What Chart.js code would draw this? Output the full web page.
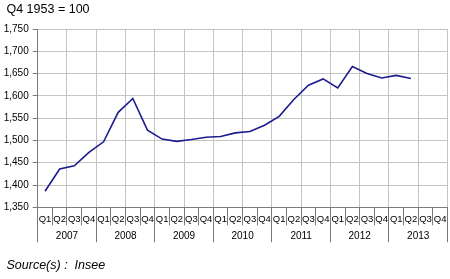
<!DOCTYPE html>
<html>
<head>
<meta charset="utf-8">
<script src="https://cdn.jsdelivr.net/npm/chart.js@4"></script>
<style>
  html, body { margin: 0; padding: 0; background: #fff; }
  #wrap { width: 450px; height: 279px; }
</style>
</head>
<body>
<div id="wrap"><canvas id="indexChart"></canvas></div>
<script>
// Quarter labels, 2007 Q1 to 2013 Q4
const quarters = [
  "Q1", "Q2", "Q3", "Q4", "Q1", "Q2", "Q3", "Q4", "Q1", "Q2", "Q3", "Q4", "Q1", "Q2",
  "Q3", "Q4", "Q1", "Q2", "Q3", "Q4", "Q1", "Q2", "Q3", "Q4", "Q1", "Q2", "Q3", "Q4"
];
const years = ["2007", "2008", "2009", "2010", "2011", "2012", "2013"];

// Index values (Q4 1953 = 100), last two quarters not published
const indexValues = [
  1386, 1436, 1443, 1473, 1497, 1563, 1594, 1523,
  1503, 1498, 1502, 1507, 1509, 1517, 1520, 1534,
  1554, 1592, 1624, 1638, 1618, 1666, 1650, 1640,
  1646, 1639, null, null
];

const yTicks = [1350, 1400, 1450, 1500, 1550, 1600, 1650, 1700, 1750];

const font = "'Liberation Sans', Arial, sans-serif";
const gridGrey = "#c4c4c4";
const axisGrey = "#7a7a7a";

const ctx = document.getElementById("indexChart");
new Chart(ctx, {
  type: "line",
  data: {
    labels: quarters,
    datasets: [
      {
        data: indexValues,
        borderColor: "#1c1c8e",
        borderWidth: 1.6,
        pointRadius: 0,
        tension: 0,
        fill: false
      }
    ]
  },
  options: {
    responsive: true,
    maintainAspectRatio: false,
    animation: false,
    layout: { padding: { left: 3, right: 2.5, top: 0, bottom: 0 } },
    plugins: {
      legend: { display: false },
      tooltip: { enabled: false },
      title: {
        display: true,
        text: " Q4 1953 = 100",
        align: "start",
        color: "#000",
        font: { family: font, size: 12.5, weight: "normal" },
        padding: { top: 2, bottom: 12 }
      },
      subtitle: {
        display: true,
        position: "bottom",
        text: " Source(s) :  Insee",
        align: "start",
        color: "#000",
        font: { family: font, size: 12.5, style: "italic" },
        padding: { top: 16, bottom: 5.7 }
      }
    },
    scales: {
      x: {
        type: "category",
        offset: true,
        weight: 0,
        grid: {
          offset: true,
          color: (c) => (c.index === undefined || c.index % 2 === 0 ? gridGrey : "transparent"),
          tickColor: axisGrey,
          tickLength: 18
        },
        border: { display: true, color: axisGrey },
        ticks: {
          autoSkip: false,
          maxRotation: 0,
          padding: -12,
          color: "#000",
          font: { family: font, size: 9.5 }
        },
        afterFit: (s) => { s.height = 18; }
      },
      x2: {
        type: "category",
        labels: years,
        position: "bottom",
        display: true,
        offset: true,
        weight: 1,
        grid: {
          offset: true,
          drawOnChartArea: false,
          tickColor: axisGrey,
          tickLength: 17
        },
        border: { display: false },
        ticks: {
          autoSkip: false,
          maxRotation: 0,
          padding: -12,
          color: "#000",
          font: { family: font, size: 10 }
        },
        afterFit: (s) => { s.height = 17; }
      },
      y: {
        min: 1350,
        max: 1750,
        afterBuildTicks: (s) => { s.ticks = yTicks.map((v) => ({ value: v })); },
        grid: { color: gridGrey, tickColor: axisGrey, tickLength: 5 },
        border: { display: true, color: axisGrey },
        ticks: {
          padding: 4,
          color: "#000",
          font: { family: font, size: 10 },
          callback: (v) => v.toLocaleString("en-US")
        },
        afterFit: (s) => { s.width = 34.7; }
      }
    }
  }
});
</script>
</body>
</html>
